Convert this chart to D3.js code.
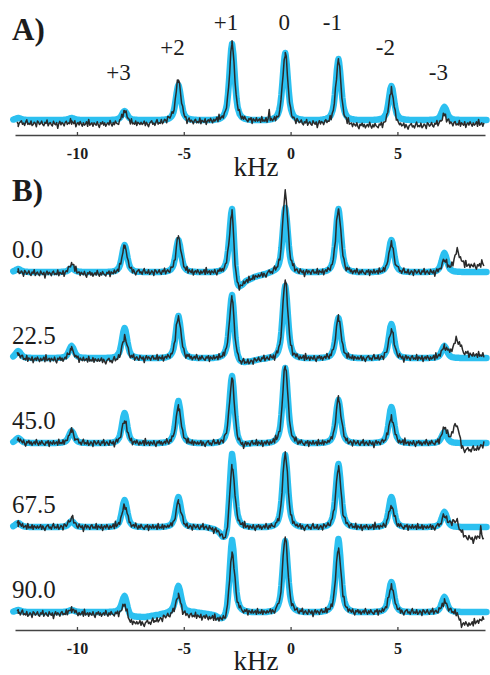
<!DOCTYPE html>
<html>
<head>
<meta charset="utf-8">
<script src="https://cdn.jsdelivr.net/npm/d3@7"></script>
<style>
  body { margin: 0; background: #fff; }
  text { font-family: "Liberation Serif", "Times New Roman", serif; fill: #1c1c1c; }
</style>
</head>
<body>
<svg id="chart" width="490" height="675"></svg>
<script>
// centre band and spinning sidebands, kHz
const peakPos = [-12.75, -10.25, -7.77, -5.25, -2.74, -0.25, 2.24, 4.72, 7.2]
const sidebandLabels = ["+3", "+2", "+1", "0", "-1", "-2", "-3"]   // peaks 2..8
const angleLabels = ["0.0", "22.5", "45.0", "67.5", "90.0"]
const xTicks = [-10, -5, 0, 5]

// peak heights (same order as peakPos), fit = blue, exp = black
const fitA = [2, 2, 9, 35, 76, 67, 61, 34, 13]
const expA = [0, 2, 13, 40, 77, 68, 64, 36, 10]

const fitB = [
  [3, 4, 27, 32, 63, 64, 63, 32, 19],
  [7, 12, 30, 42, 63, 72, 40, 34, 12],
  [5, 12, 30, 42, 67, 75, 43, 36, 11],
  [4, 6, 27, 30, 73, 72, 63, 30, 15],
  [2, 2, 16, 26, 72, 71, 73, 30, 15]
]
const expB = [
  [2, 10, 27, 35, 60, 80, 63, 29, 10],
  [5, 11, 23, 41, 61, 78, 41, 28, 9],
  [4, 13, 22, 36, 65, 78, 45, 26, 13],
  [4, 9, 22, 25, 62, 74, 60, 21, 9],
  [2, 5, 12, 20, 60, 75, 64, 26, 11]
]

// baseline distortions [kHz, offset]
const fitBaseA = [[-13, 0], [9.2, 0]]
const expBaseA = [[-13, -3], [-10, -4], [-8, -4], [-6.2, -3], [-5.6, 1], [-4.6, -2], [-3.3, 0], [-1.5, 0],
  [-1.05, 0], [-1.0, 10], [-0.95, 0], [-0.8, -1], [0.8, -3], [1.8, -3], [2.8, -5], [4, -6], [5.4, -6],
  [6.6, -5], [7.8, -4], [9.2, -4]]

const fitBaseB = [
  [[-2.74, 0], [-2.6, -22], [-2.45, -22], [-2.3, -16], [-2.1, -10], [-1.7, -5], [-1.2, -2], [-0.8, 0]],
  [[-2.74, 0], [-2.6, -8], [-2.4, -7], [-2.0, -4], [-1.4, -1], [-1.0, 0]],
  [[-2.74, 0], [-2.6, -4], [-2.3, -3], [-1.8, 0]],
  [[-4.0, 0], [-3.6, -2], [-3.35, -6], [-3.15, -14], [-3.0, -18], [-2.87, -10], [-2.74, 0]],
  [[-7.77, 0], [-7.55, -5], [-6.8, -5], [-6.0, -2], [-5.5, 0], [-4.5, 0], [-3.6, -3], [-3.2, -9],
   [-3.0, -10], [-2.85, -6], [-2.74, 0]]
]
const expBaseB = [
  [[-13, -1], [-9, -2], [-7, 0], [6.9, 0], [7.45, 3], [7.6, 9], [7.8, 22], [7.95, 14], [8.15, 7],
   [8.9, 6], [8.97, 13], [9.05, 6]],
  [[-13, -1], [-9, -2], [-8.3, -3], [-7, 0], [6.8, 0], [7.4, 4], [7.55, 8], [7.75, 18], [7.9, 15],
   [8.1, 6], [8.5, 3], [9.1, 3]],
  [[6.9, 0], [7.45, 4], [7.55, 8], [7.7, 19], [7.85, 14], [8.0, -3], [8.2, -7], [8.7, -6], [9.1, 0]],
  [[6.9, 0], [7.4, 3], [7.8, 6], [7.95, -4], [8.2, -10], [8.6, -12], [8.85, -9], [8.9, 0], [8.95, -10], [9.1, -12]],
  [[-13, -2], [-8.2, -2], [-7.5, -6], [-6.5, -6], [-5.7, -3], [-4.8, -4], [-3.5, -3], [-3.3, 0],
   [7.55, 0], [7.8, -2], [8.0, -12], [8.5, -12], [8.8, -9], [9.1, -6]]
]

// single line profile [offset kHz, fraction of height]
const lineShape = [[-0.9, 0], [-0.6, 0.015], [-0.45, 0.04], [-0.35, 0.08], [-0.25, 0.18], [-0.2, 0.3],
  [-0.15, 0.48], [-0.1, 0.7], [-0.05, 0.91], [0, 1], [0.05, 0.91], [0.1, 0.7], [0.15, 0.48],
  [0.2, 0.3], [0.25, 0.18], [0.35, 0.08], [0.45, 0.04], [0.6, 0.015], [0.9, 0]]

const noise = [1,-1,0,2,-2,1,-1,-3,0,1,2,-1,0,-2,1,3,-1,0,-1,2,-2,-1,1,0,-3,2,1,-1,0,2,-1,-2,1,0,3,-2,
  0,1,-1,-2,2,0,-1,1,-4,0,2,-1,1,0,-2,1,2,-1,0,-1,3,-2,1,0,-1,2,-3,0,1,-1,2,0,-2,1,-1,0,2,-2,4,-1,0,1,
  -2,1,0,-1,2,-1,-3,1,0,2,-1,1,-2,0,1,-1,3,0,-2,1,-1,2,0,-1,-2,1,0,2,-3,1,0,-1,2,-1,0,1,-2,3,-1,0,-1,
  2,-2,1,0,-1]

let svg = d3.select("#chart")
let x = d3.scaleLinear().domain([-12.9, 9.1]).range([15, 485])
let shape = d3.scaleLinear()
  .domain(lineShape.map(d => d[0]))
  .range(lineShape.map(d => d[1]))
  .clamp(true)

function base_scale(knots) {
  return d3.scaleLinear().domain(knots.map(d => d[0])).range(knots.map(d => d[1])).clamp(true)
}

function spectrum(heights, bases, from, to, offset) {
  let grid = d3.range(from, to, 0.05).concat(peakPos.filter(p => p > from && p < to)).sort(d3.ascending)
  let bs = bases.map(base_scale)
  return grid.map((k, i) => {
    let v = d3.sum(bs, b => b(k)) + d3.sum(peakPos, (p, j) => heights[j] * shape(k - p))
    if (offset != null) v += 1.15 * noise[(i + offset) % noise.length]
    return [k, v]
  })
}

function draw_row(yBase, fit, exp, fitBase, expBase, offset) {
  let y = d3.scaleLinear().domain([0, 100]).range([yBase, yBase - 100])
  let line = d3.line().x(d => x(d[0])).y(d => y(d[1]))
  let g = svg.append("g")
  g.append("path")
    .datum(spectrum(fit, [fitBase], -12.98, 9.2, null))
    .attr("d", line)
    .attr("fill", "none")
    .attr("stroke", "#2cc0f0")
    .attr("stroke-width", 6.5)
    .attr("stroke-linecap", "round")
    .attr("stroke-linejoin", "round")
  g.append("path")
    .datum(spectrum(exp, [fitBase, expBase], -12.8, 9.06, offset))
    .attr("d", line)
    .attr("fill", "none")
    .attr("stroke", "#2a2a2a")
    .attr("stroke-width", 1.5)
    .attr("stroke-linejoin", "round")
}

function draw_axis(yPos, kHzY) {
  let axis = d3.axisBottom(x)
    .tickValues(xTicks)
    .tickFormat(d => String(d))
    .tickSizeInner(-3)
    .tickSizeOuter(0)
    .tickPadding(13)
  let g = svg.append("g")
    .attr("transform", `translate(0, ${yPos})`)
    .call(axis)
    .attr("font-family", null)
  g.select(".domain").attr("stroke", "#444").attr("stroke-width", 1.6)
  g.selectAll(".tick line").attr("stroke", "#444").attr("stroke-width", 1.3)
  g.selectAll(".tick text")
    .attr("fill", "#222")
    .style("font-size", "16px")
    .style("font-weight", "bold")
  svg.append("text")
    .attr("x", 256)
    .attr("y", kHzY)
    .attr("text-anchor", "middle")
    .style("font-size", "27px")
    .text("kHz")
}

// panel A
svg.append("text").attr("x", 12).attr("y", 40)
  .style("font-size", "31px").style("font-weight", "bold").text("A)")
draw_row(120, fitA, expA, fitBaseA, expBaseA, 5)
let labelBaseline = [80, 55, 30, 30, 30, 55, 80]
svg.selectAll(".sideband")
  .data(sidebandLabels).enter()
  .append("text")
  .attr("class", "sideband")
  .attr("x", (d, i) => x(peakPos[i + 2]) - (d == "0" ? 1 : 6))
  .attr("y", (d, i) => labelBaseline[i])
  .attr("text-anchor", "middle")
  .style("font-size", "23px")
  .text(d => d)
draw_axis(135, 176)

// panel B
svg.append("text").attr("x", 12).attr("y", 201)
  .style("font-size", "31px").style("font-weight", "bold").text("B)")
let rowBase = [272, 358, 443, 527, 612]
angleLabels.forEach((a, i) => {
  draw_row(rowBase[i], fitB[i], expB[i], fitBaseB[i], expBaseB[i], 17 + i * 29)
  svg.append("text")
    .attr("x", 12)
    .attr("y", rowBase[i] - 14)
    .style("font-size", "25px")
    .text(a)
})
draw_axis(630, 670)
</script>
</body>
</html>
